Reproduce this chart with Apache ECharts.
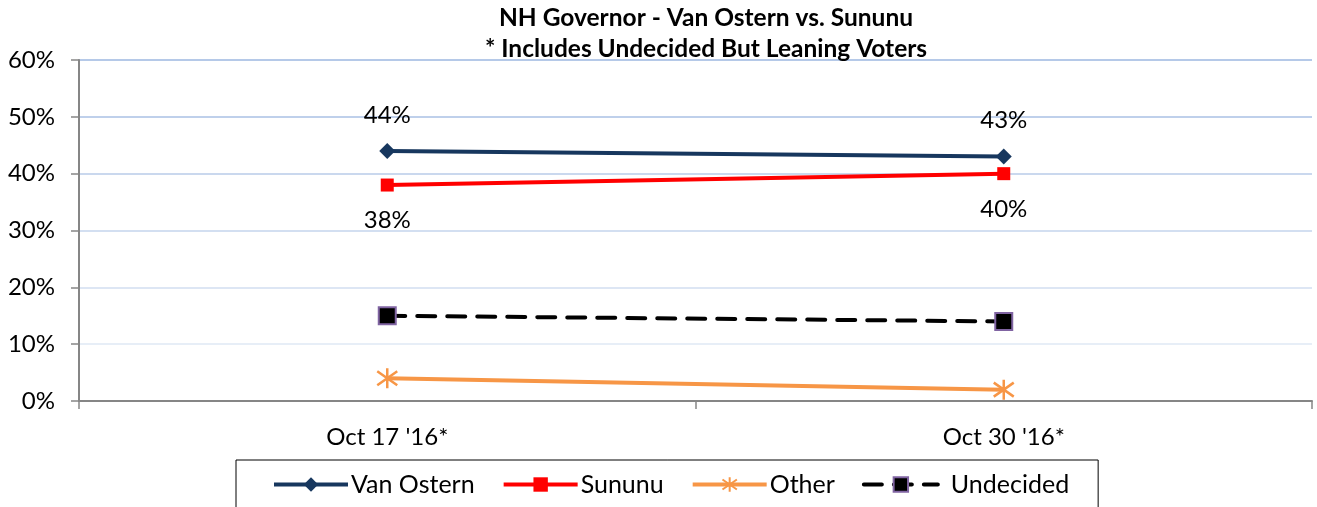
<!DOCTYPE html>
<html>
<head>
<meta charset="utf-8">
<script src="https://cdn.jsdelivr.net/npm/echarts@6/dist/echarts.min.js"></script>
<style>
  html, body { margin: 0; padding: 0; background: #fff; }
  #chart { width: 1317px; height: 507px; }
</style>
</head>
<body>
<div id="chart"></div>
<script>
var categories = ["Oct 17 '16*", "Oct 30 '16*"];
var vanOstern = [44, 43];
var sununu = [38, 40];
var other = [4, 2];
var undecided = [15, 14];
var yTicks = { min: 0, max: 60, step: 10 };

var font = 'Lato, "Open Sans", sans-serif';
var asterisk = 'path://M10,0L10,20M3,3L17,17M17,3L3,17';

var chart = echarts.init(document.getElementById('chart'));
var option = {
    animation: false,
    title: {
        text: 'NH Governor - Van Ostern vs. Sununu\n* Includes Undecided But Leaning Voters',
        left: 701,
        top: -2,
        textAlign: 'center',
        textStyle: {
            fontFamily: font,
            fontSize: 24.5,
            fontWeight: 'bold',
            color: '#000',
            lineHeight: 31
        }
    },
    grid: {
        left: 79,
        right: 5,
        top: 60,
        bottom: 106
    },
    legend: {
        left: 236,
        top: 460,
        borderColor: '#000',
        borderWidth: 1,
        padding: [12, 29, 30, 36],
        itemWidth: 74,
        itemHeight: 18,
        itemGap: 27,
        lineStyle: { width: 4 },
        textStyle: { fontFamily: font, fontSize: 25, color: '#000', padding: [0, 0, 0, -2] },
        data: ['Van Ostern', 'Sununu', 'Other',
            { name: 'Undecided', textStyle: { padding: [0, 0, 0, 8] } }]
    },
    xAxis: {
        type: 'category',
        data: categories,
        boundaryGap: true,
        axisLine: { lineStyle: { color: '#868686', width: 2 } },
        axisTick: { show: true, length: 8, lineStyle: { color: '#868686', width: 1.5 } },
        axisLabel: { fontFamily: font, fontSize: 24, color: '#000', margin: 24 }
    },
    yAxis: {
        type: 'value',
        min: yTicks.min,
        max: yTicks.max,
        interval: yTicks.step,
        axisLine: { show: true, lineStyle: { color: '#868686', width: 2 } },
        axisTick: { show: true, length: 8, lineStyle: { color: '#868686', width: 1.5 } },
        axisLabel: { fontFamily: font, fontSize: 24, color: '#000', margin: 24, formatter: '{value}%' },
        splitLine: {
            lineStyle: {
                color: ['#ffffff', '#dfe8f5', '#d2def1', '#c5d4ed', '#b8cbe9', '#aac1e5', '#9db7e1'],
                width: 1.5
            }
        }
    },
    series: [
        {
            name: 'Van Ostern',
            type: 'line',
            data: vanOstern,
            symbol: 'diamond',
            symbolSize: 16,
            lineStyle: { color: '#17375e', width: 4 },
            itemStyle: { color: '#17375e' },
            label: {
                show: true, position: 'top', distance: 16,
                formatter: '{c}%', fontFamily: font, fontSize: 24, color: '#000'
            },
            z: 5
        },
        {
            name: 'Sununu',
            type: 'line',
            data: sununu,
            symbol: 'rect',
            symbolSize: 13,
            lineStyle: { color: '#ff0000', width: 4 },
            itemStyle: { color: '#ff0000' },
            label: {
                show: true, position: 'bottom', distance: 17,
                formatter: '{c}%', fontFamily: font, fontSize: 24, color: '#000'
            },
            z: 4
        },
        {
            name: 'Other',
            type: 'line',
            data: other,
            symbol: asterisk,
            symbolSize: 20,
            lineStyle: { color: '#f79646', width: 4 },
            itemStyle: { color: 'rgba(0,0,0,0)', borderColor: '#f79646', borderWidth: 2.5 },
            z: 3
        },
        {
            name: 'Undecided',
            type: 'line',
            data: undecided,
            symbol: 'rect',
            symbolSize: 17,
            lineStyle: { color: '#000', width: 4, type: [18, 12], cap: 'round' },
            itemStyle: { color: '#000', borderColor: '#8064a2', borderWidth: 2 },
            z: 3
        }
    ]
};
chart.setOption(option);
window.onresize = chart.resize;
</script>
</body>
</html>
